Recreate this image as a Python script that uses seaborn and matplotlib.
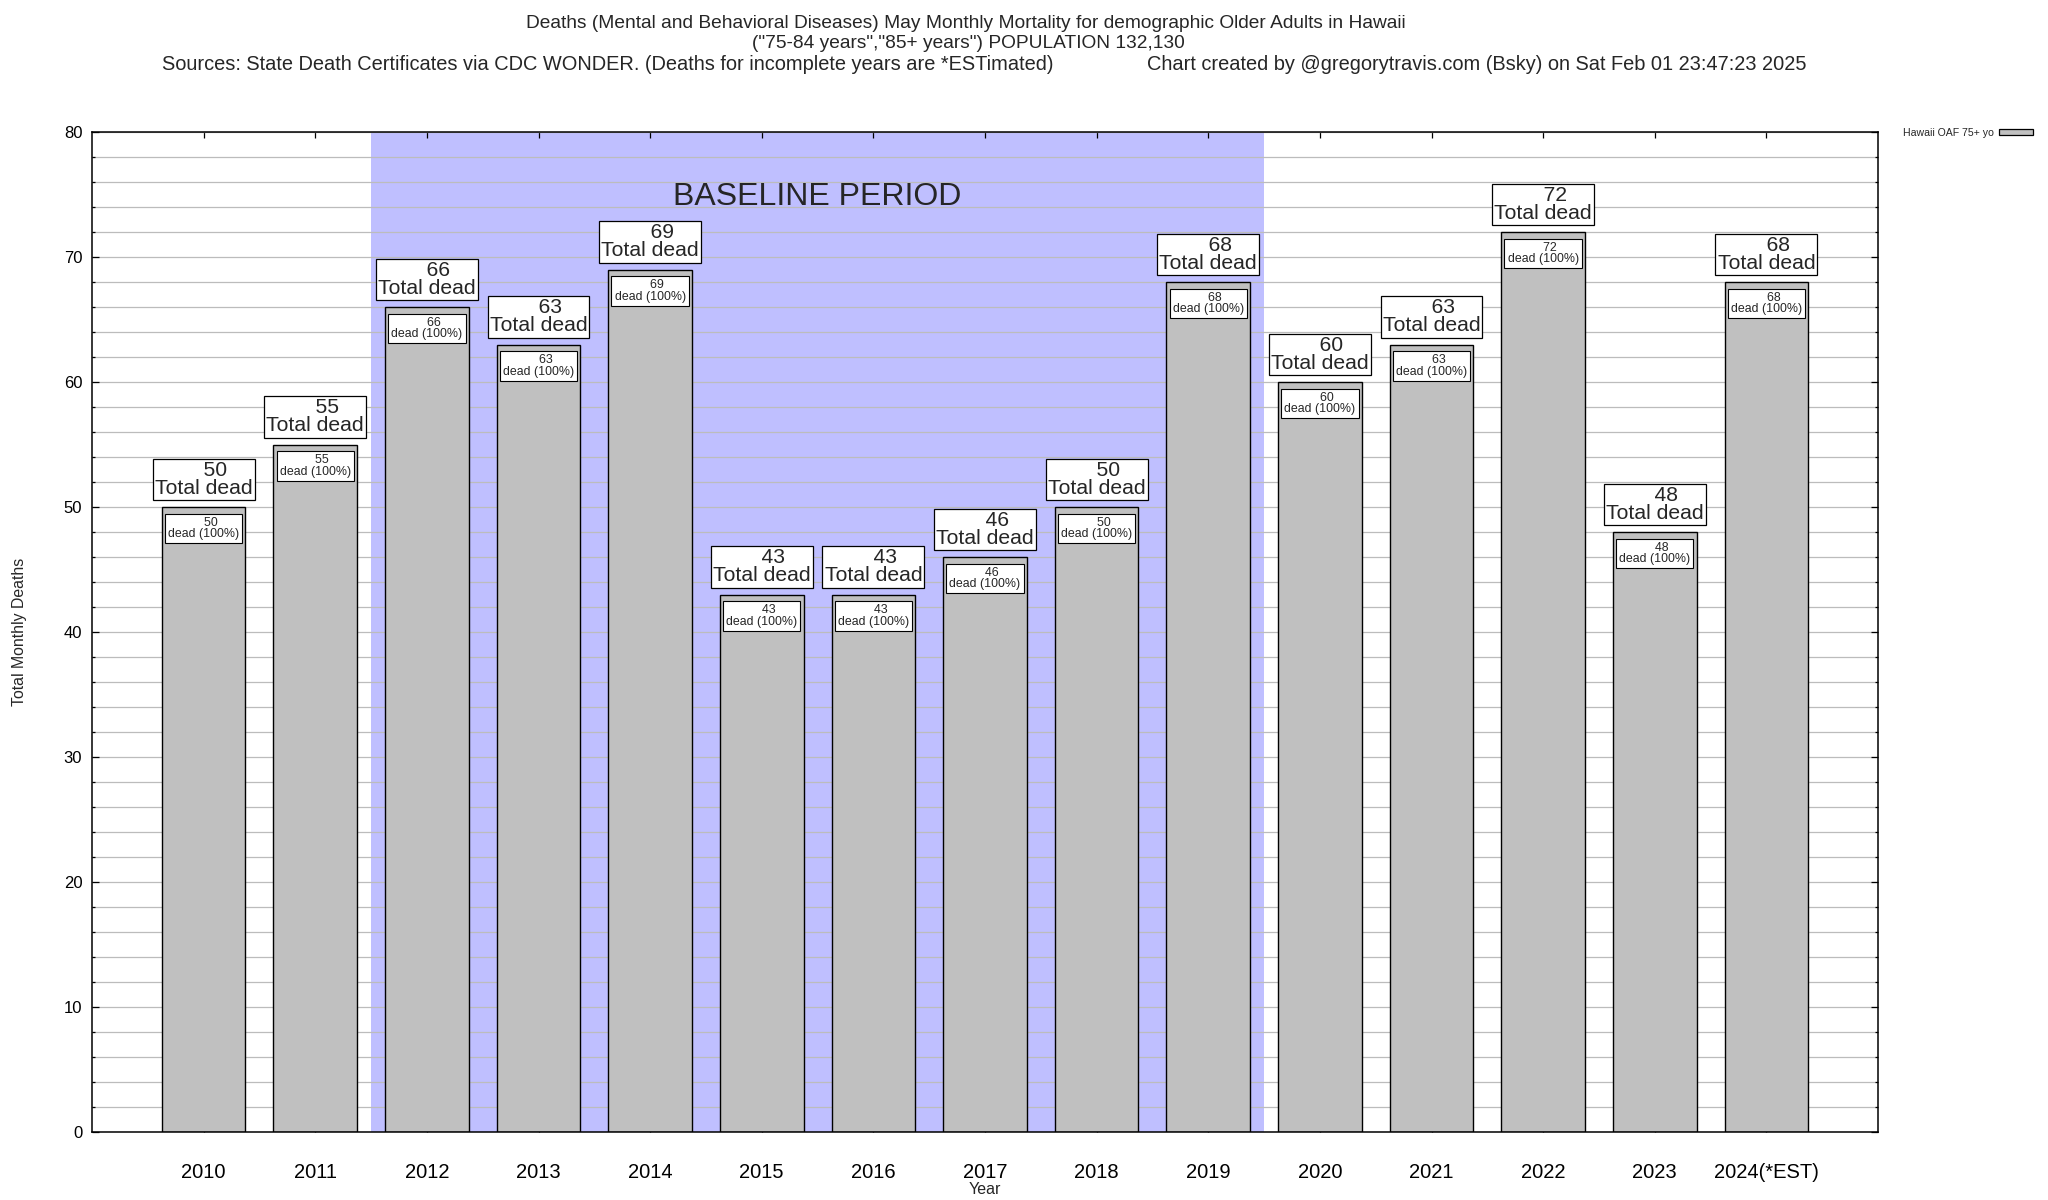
import matplotlib
matplotlib.use("Agg")
import matplotlib.pyplot as plt
from matplotlib.ticker import MultipleLocator
from matplotlib.patches import Patch
import seaborn as sns
import pandas as pd

years = ["2010", "2011", "2012", "2013", "2014", "2015", "2016", "2017",
         "2018", "2019", "2020", "2021", "2022", "2023", "2024(*EST)"]
deaths = [50, 55, 66, 63, 69, 43, 43, 46, 50, 68, 60, 63, 72, 48, 68]
percent = [100] * len(years)
baseline_start, baseline_end = 1.5, 9.5

title1 = "Deaths (Mental and Behavioral Diseases) May Monthly Mortality for demographic Older Adults in Hawaii"
title2 = "(\"75-84 years\",\"85+ years\") POPULATION 132,130"
title3 = ("Sources: State Death Certificates via CDC WONDER. (Deaths for incomplete years are *ESTimated)"
          "                 Chart created by @gregorytravis.com (Bsky) on Sat Feb 01 23:47:23 2025")
legend_label = "Hawaii OAF 75+ yo"

sns.set_theme(style="ticks")
plt.rcParams['font.family'] = ['Liberation Sans', 'DejaVu Sans']

df = pd.DataFrame({"Year": years, "Deaths": deaths})

fig = plt.figure(figsize=(20.48, 12), dpi=100)
ax = fig.add_axes([92/2048, 1-1132/1200, 1786/2048, 1000/1200])

ax.axvspan(baseline_start, baseline_end, color="#bfbfff", zorder=0.2, lw=0)
sns.barplot(data=df, x="Year", y="Deaths", color="#c0c0c0", saturation=1,
            width=0.75, edgecolor="black", linewidth=1.0, ax=ax, zorder=2)

ax.set_xlim(-1, len(years))
ax.set_ylim(0, 80)
ax.yaxis.set_major_locator(MultipleLocator(10))
ax.yaxis.set_minor_locator(MultipleLocator(2))
ax.set_axisbelow(True)
ax.yaxis.grid(True, which="both", color="#bcbcbc", lw=0.9, zorder=0.5)
ax.xaxis.grid(False)

for sp in ax.spines.values():
    sp.set_visible(True)
    sp.set_color("black")
    sp.set_linewidth(1.1)

ax.tick_params(axis="y", which="major", direction="in", left=True, right=True,
               length=5, width=0.9, labelsize=12, pad=7, colors="black")
ax.tick_params(axis="y", which="minor", direction="in", left=True, right=True,
               length=2.5, width=0.9, colors="black")
ax.tick_params(axis="x", which="major", direction="in", top=True, bottom=True,
               length=4, width=0.9, labelsize=14.5, pad=22, colors="black")

ax.set_xlabel("Year", fontsize=11.5, labelpad=0)
ax.set_ylabel("Total Monthly Deaths", fontsize=11.4)
ax.yaxis.set_label_coords(-0.0365, 0.5)

for i, (v, p) in enumerate(zip(deaths, percent)):
    ax.annotate(f"    {v}\nTotal dead", xy=(i, v), xytext=(0, 6.5),
                textcoords="offset points", ha="center", va="bottom",
                multialignment="center", fontsize=15.2, linespacing=0.95,
                bbox=dict(boxstyle="square,pad=0.1", fc="white", ec="black", lw=0.9),
                zorder=4)
    ax.annotate(f"    {v}\ndead ({p}%)", xy=(i, v), xytext=(0, -7),
                textcoords="offset points", ha="center", va="top",
                multialignment="center", fontsize=8.9, linespacing=0.95,
                bbox=dict(boxstyle="square,pad=0.25", fc="white", ec="black", lw=0.8),
                zorder=4)

ax.text((baseline_start + baseline_end) / 2, 74.8, "BASELINE PERIOD",
        ha="center", va="center", fontsize=23, zorder=3)

fig.text(966/2048, 1-23.5/1200, title1, ha="center", va="center", fontsize=13.8)
fig.text(968/2048, 1-44/1200, title2, ha="center", va="center", fontsize=13.8)
fig.text(984/2048, 1-65/1200, title3, ha="center", va="center", fontsize=14.4)

handle = Patch(facecolor="#c0c0c0", edgecolor="black", lw=0.9)
ax.legend(handles=[handle], labels=[legend_label], loc="upper left",
          bbox_to_anchor=(1.014, 1.004), borderaxespad=0, borderpad=0,
          frameon=False, markerfirst=False, fontsize=7.6,
          handlelength=3.2, handleheight=0.45, handletextpad=0.5)

fig.savefig("out.png", dpi=100)
